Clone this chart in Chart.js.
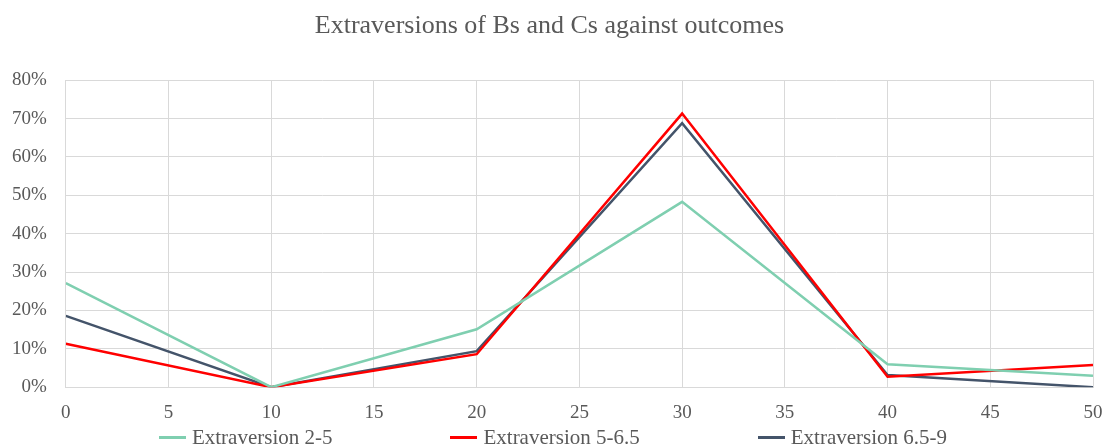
<!DOCTYPE html>
<html>
<head>
<meta charset="utf-8">
<script src="https://cdn.jsdelivr.net/npm/chart.js@4/dist/chart.umd.min.js"></script>
<style>
  html, body { margin: 0; padding: 0; background: #fff; }
  .wrap { position: relative; width: 1106px; height: 447px; }
  #legend {
    position: absolute; left: 0; top: 425px; width: 1106px;
    display: flex; justify-content: center; gap: 118px;
    font-family: "Liberation Serif", serif; font-size: 21px; color: #595959;
  }
  #legend .item { display: flex; align-items: center; }
  #legend .swatch { width: 27px; height: 3px; margin-right: 6px; }
</style>
</head>
<body>
<div class="wrap">
  <canvas id="chart" width="1106" height="447"></canvas>
  <div id="legend"></div>
</div>
<script>
// values (fractions, shown as %)
const outcomes = [0, 10, 20, 30, 40, 50];
const extra25 = [0.271, 0, 0.151, 0.483, 0.060, 0.030];
const extra565 = [0.113, 0, 0.086, 0.713, 0.027, 0.058];
const extra659 = [0.186, 0, 0.094, 0.688, 0.032, 0.000];
const seriesNames = ['Extraversion 2-5', 'Extraversion 5-6.5', 'Extraversion 6.5-9'];
const seriesColors = ['#7fcfb0', '#ff0000', '#44546a'];

const font = '"Liberation Serif", serif';
const grey = '#595959';

const toPoints = vals => outcomes.map((x, i) => ({ x: x, y: vals[i] }));

const datasets = [extra25, extra565, extra659].map((vals, i) => ({
  label: seriesNames[i],
  data: toPoints(vals),
  borderColor: seriesColors[i],
  backgroundColor: seriesColors[i],
  borderWidth: 2.5,
  pointRadius: 0,
  tension: 0,
  fill: false
}));

new Chart(document.getElementById('chart'), {
  type: 'line',
  data: { datasets },
  options: {
    responsive: false,
    animation: false,
    layout: { padding: { left: -7, right: 0, top: 0, bottom: 9 } },
    plugins: {
      legend: { display: false },
      tooltip: { enabled: false },
      title: {
        display: true,
        text: 'Extraversions of Bs and Cs against outcomes',
        color: grey,
        font: { family: font, size: 26, weight: 'normal' },
        padding: { top: 11, bottom: 38 }
      }
    },
    scales: {
      x: {
        type: 'linear',
        min: 0, max: 50,
        ticks: { stepSize: 5, color: grey, font: { family: font, size: 19 }, padding: 14 },
        grid: { color: '#d9d9d9', drawTicks: false },
        border: { color: '#d9d9d9' },
        // the "50" label may hang over the right edge, like the original
        afterFit: s => { s.paddingRight = 13; }
      },
      y: {
        min: 0, max: 0.8,
        ticks: {
          stepSize: 0.1, color: grey, font: { family: font, size: 19 }, padding: 19,
          callback: v => Math.round(v * 100) + '%'
        },
        grid: { color: '#d9d9d9', drawTicks: false },
        border: { color: '#d9d9d9' }
      }
    }
  }
});

// legend below the plot
const legend = document.getElementById('legend');
seriesNames.forEach((name, i) => {
  const el = document.createElement('div');
  el.className = 'item';
  el.innerHTML = `<span class="swatch" style="background:${seriesColors[i]}"></span><span>${name}</span>`;
  legend.appendChild(el);
});
</script>
</body>
</html>
